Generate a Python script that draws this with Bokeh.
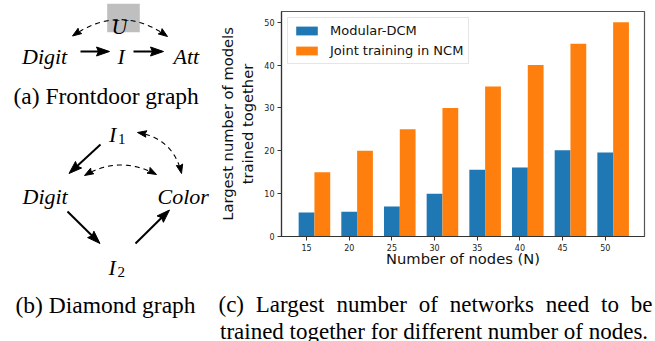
import numpy as np
from bokeh.plotting import figure
from bokeh.models import Range1d, FixedTicker, Legend, LegendItem
from bokeh.layouts import row, column
from bokeh.core.properties import value
from bokeh.embed import file_html
from bokeh.resources import INLINE

# ---------------- data ----------------
nodes = [15, 20, 25, 30, 35, 40, 45, 50]
modular_dcm = [5.6, 5.8, 7.0, 10.0, 15.6, 16.1, 20.1, 19.6]
joint_ncm = [15, 20, 25, 30, 35, 40, 45, 50]
y_ticks = [0, 10, 20, 30, 40, 50]
series_names = ["Modular-DCM", "Joint training in NCM"]
series_colors = ["#1f77b4", "#ff7f0e"]
x_label = "Number of nodes (N)"
y_label = "Largest number of models\ntrained together"
caption_a = "(a) Frontdoor graph"
caption_b = "(b) Diamond graph"
caption_c1 = ["(c)", "Largest", "number", "of", "networks", "need", "to", "be"]
caption_c2 = "trained together for different number of nodes."

SERIF = value("Liberation Serif")


def blank(w, h, x0, x1, y0, y1):
    f = figure(width=w, height=h, x_range=Range1d(x0, x1), y_range=Range1d(y1, y0),
               output_backend="svg", toolbar_location=None, min_border=0,
               x_axis_location=None, y_axis_location=None)
    f.grid.visible = False
    f.outline_line_color = None
    f.background_fill_color = "white"
    f.border_fill_color = "white"
    return f


def head(f, tip, d, L, W):
    d = np.asarray(d, float)
    d = d / np.linalg.norm(d)
    n = np.array([-d[1], d[0]])
    tip = np.asarray(tip, float)
    base = tip - d * L
    pts = [tip, base + n * W / 2, tip - d * L * 0.85, base - n * W / 2]
    f.patch([p[0] for p in pts], [p[1] for p in pts], color="black")


def solid_arrow(f, x0, y0, x1, y1, L=13, W=9, lw=2.0):
    d = np.array([x1 - x0, y1 - y0], float)
    u = d / np.linalg.norm(d)
    bx, by = x1 - u[0] * L * 0.8, y1 - u[1] * L * 0.8
    f.line([x0, bx], [y0, by], line_color="black", line_width=lw)
    head(f, (x1, y1), u, L, W)


def dashed_arc(f, p0, c, p1, L=9, W=6.5, lw=1.1):
    p0, c, p1 = (np.asarray(v, float) for v in (p0, c, p1))
    t = np.linspace(0, 1, 120)[:, None]
    pts = (1 - t) ** 2 * p0 + 2 * (1 - t) * t * c + t ** 2 * p1
    keep = (np.linalg.norm(pts - p0, axis=1) > L * 0.8) & (np.linalg.norm(pts - p1, axis=1) > L * 0.8)
    pts = pts[keep]
    f.line(pts[:, 0], pts[:, 1], line_color="black", line_width=lw, line_dash="5 4")
    head(f, p0, p0 - c, L, W)
    head(f, p1, p1 - c, L, W)


def txt(f, x, y, s, size, italic=False, font=SERIF, align="left"):
    f.text(x=[x], y=[y], text=[s], text_font=font, text_font_size=size,
           text_font_style="italic" if italic else "normal", text_color="black",
           text_baseline="alphabetic", text_align=align)


# ---------------- left panel: graphs ----------------
left = blank(215, 341, 0, 215, 0, 341)

# (a) frontdoor graph
left.quad(left=106.7, right=139.3, top=3.3, bottom=31.7, fill_color="#bfbfbf", line_color=None)
txt(left, 111, 25.5, "U", "22px", italic=True)
dashed_arc(left, (72, 35.5), (120, 2.5), (167, 36))
txt(left, 21.5, 55.5, "Digit", "22px", italic=True)
solid_arrow(left, 80, 51, 109, 51)
txt(left, 117, 55.5, "I", "22px", italic=True)
solid_arrow(left, 133, 51, 163, 51)
txt(left, 173, 55.5, "Att", "22px", italic=True)
txt(left, 13, 95, caption_a, "23.5px")

# (b) diamond graph
txt(left, 108.5, 134, "I", "22px", italic=True)
txt(left, 117.5, 138, "1", "15px")
txt(left, 22, 196, "Digit", "22px", italic=True)
txt(left, 157, 196, "Color", "22px", italic=True)
txt(left, 108, 267, "I", "22px", italic=True)
txt(left, 117, 271, "2", "15px")
solid_arrow(left, 100, 144, 68.5, 173)
solid_arrow(left, 67, 211, 99.5, 243)
solid_arrow(left, 135, 243, 169, 209.5)
dashed_arc(left, (84, 175), (119, 154.5), (156, 174))
dashed_arc(left, (137, 132), (173, 138), (181, 173))
txt(left, 15, 304.3, caption_b, "23.5px")

# ---------------- bar chart ----------------
w = 0.37
xs = np.arange(len(nodes))
bar = figure(width=440, height=278, x_range=Range1d(-0.587, 7.92), y_range=Range1d(0, 52.5),
             output_backend="svg", toolbar_location=None,
             min_border_left=62, min_border_right=11, min_border_top=11, min_border_bottom=42)
r1 = bar.vbar(x=xs, top=modular_dcm, width=w, fill_color=series_colors[0], line_color=None)
r2 = bar.vbar(x=xs + w, top=joint_ncm, width=w, fill_color=series_colors[1], line_color=None)
bar.grid.visible = False
bar.outline_line_color = "#555555"
bar.outline_line_width = 1.2
bar.background_fill_color = "white"
bar.border_fill_color = "white"

bar.xaxis.ticker = FixedTicker(ticks=[float(v) for v in xs])
bar.xaxis.major_label_overrides = {float(i): str(n) for i, n in zip(xs, nodes)}
bar.yaxis.ticker = FixedTicker(ticks=y_ticks)
for ax in (bar.xaxis, bar.yaxis):
    ax.axis_line_color = "#333333"
    ax.axis_line_width = 1.2
    ax.major_tick_line_color = "#333333"
    ax.major_tick_in = 0
    ax.major_tick_out = 4
    ax.minor_tick_line_color = None
    ax.major_label_text_font = "DejaVu Sans"
    ax.major_label_text_font_size = "8px"
    ax.major_label_text_color = "#222222"
    ax.major_label_standoff = 3
    ax.axis_label_text_font = "DejaVu Sans"
    ax.axis_label_text_font_size = "14.7px"
    ax.axis_label_text_font_style = "normal"
    ax.axis_label_text_color = "#111111"
bar.xaxis.axis_label = x_label
bar.yaxis.axis_label = y_label
bar.xaxis.axis_label_standoff = -4
bar.yaxis.axis_label_standoff = 5

legend = Legend(items=[LegendItem(label=series_names[0], renderers=[r1]),
                       LegendItem(label=series_names[1], renderers=[r2])],
                location="top_left", margin=6, padding=5, spacing=5,
                glyph_width=27, glyph_height=11, label_height=14, label_standoff=10,
                label_text_font="DejaVu Sans", label_text_font_size="13px",
                label_text_color="#111111",
                border_line_color="#cccccc", border_line_width=1,
                background_fill_color="white", background_fill_alpha=0.85)
bar.add_layout(legend)

# ---------------- caption (c) ----------------
cap = blank(440, 63, 215, 655, 278, 341)
word_x = [218, 255.3, 336.1, 418.2, 449.2, 545.3, 600.5, 630.2]
for s, x in zip(caption_c1, word_x):
    txt(cap, x, 304.3, s, "23px")
txt(cap, 219.5, 330.5, caption_c2, "23px")

layout = row(column(left), column(column(bar), column(cap), spacing=0), spacing=0)
open("out.html", "w").write(file_html(layout, INLINE))
